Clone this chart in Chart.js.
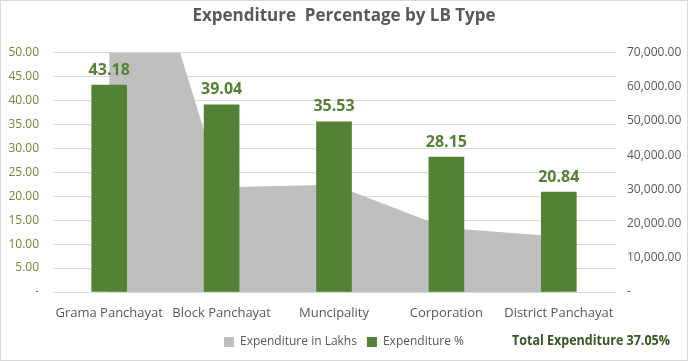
<!DOCTYPE html>
<html>
<head>
    <title>Expenditure Percentage by LB Type</title>
    <script src="https://cdn.jsdelivr.net/npm/chart.js"></script>
    <style>
        body { margin: 0; background: #fff; }
        #wrap { width: 688px; height: 361px; }
    </style>
</head>
<body>
    <div id="wrap"><canvas id="lbChart" width="688" height="361"></canvas></div>
    <script>
        // data
        const lbTypes = ['Grama Panchayat', 'Block Panchayat', 'Muncipality', 'Corporation', 'District Panchayat'];
        const expenditurePct = [43.18, 39.04, 35.53, 28.15, 20.84];
        const expenditureLakhs = [137000, 30600, 31300, 18700, 16200];
        const totalText = 'Total Expenditure 37.05%';

        const green = '#548235';
        const gray = '#595959';

        const extras = {
            id: 'extras',
            beforeDraw(chart) {
                const c = chart.ctx;
                c.save();
                c.fillStyle = '#fff';
                c.fillRect(0, 0, chart.width, chart.height);
                c.restore();
            },
            afterDatasetsDraw(chart) {
                const c = chart.ctx;
                const meta = chart.getDatasetMeta(0);
                c.save();
                c.font = 'bold 16px "Open Sans"';
                c.fillStyle = green;
                c.textAlign = 'center';
                c.textBaseline = 'middle';
                meta.data.forEach((bar, i) => {
                    c.fillText(expenditurePct[i].toFixed(2), bar.x, bar.y - 15);
                });
                c.restore();
            },
            afterDraw(chart) {
                const c = chart.ctx;
                c.save();
                // narrow bold text, squeezed to the reference width
                c.font = 'bold 15px "Open Sans"';
                c.fillStyle = '#375623';
                c.textBaseline = 'middle';
                const w = c.measureText(totalText).width;
                const sx = 158 / w;
                c.translate(512, 341);
                c.scale(sx, 1);
                c.fillText(totalText, 0, 0);
                c.restore();
                c.save();
                c.strokeStyle = '#d9d9d9';
                c.lineWidth = 1;
                c.strokeRect(0.5, 0.5, chart.width - 1, chart.height - 1);
                c.restore();
            }
        };

        const ctx = document.getElementById('lbChart').getContext('2d');
        new Chart(ctx, {
            type: 'bar',
            data: {
                labels: lbTypes,
                datasets: [{
                    label: 'Expenditure %',
                    data: expenditurePct,
                    backgroundColor: green,
                    yAxisID: 'y',
                    order: 1,
                    barThickness: 35
                }, {
                    type: 'line',
                    label: 'Expenditure in Lakhs',
                    data: expenditureLakhs,
                    backgroundColor: '#bfbfbf',
                    borderWidth: 0,
                    pointRadius: 0,
                    fill: 'origin',
                    tension: 0,
                    yAxisID: 'y1',
                    order: 2
                }]
            },
            plugins: [extras],
            options: {
                responsive: false,
                animation: false,
                layout: { padding: { left: 0, right: 0, top: 0, bottom: 3 } },
                plugins: {
                    title: {
                        display: true,
                        text: 'Expenditure  Percentage by LB Type',
                        color: gray,
                        font: { family: 'Open Sans', size: 17, weight: 'bold' },
                        padding: { top: 6, bottom: 26 }
                    },
                    legend: {
                        position: 'bottom',
                        labels: {
                            color: gray,
                            font: { family: 'Open Sans', size: 12 },
                            boxWidth: 10,
                            boxHeight: 10,
                            padding: 10,
                            sort: (a, b) => b.datasetIndex - a.datasetIndex
                        }
                    },
                    tooltip: { enabled: false }
                },
                scales: {
                    x: {
                        offset: true,
                        grid: { display: false, drawTicks: false },
                        border: { color: '#d9d9d9' },
                        ticks: {
                            color: gray,
                            font: { family: 'Open Sans', size: 13 },
                            padding: 13,
                            maxRotation: 0
                        },
                        afterFit: s => { s.height = 34; }
                    },
                    y: {
                        position: 'left',
                        min: 0,
                        max: 50,
                        grid: { color: '#d9d9d9', drawTicks: false },
                        border: { display: false },
                        ticks: {
                            stepSize: 5,
                            color: '#6d8a3a',
                            font: { family: 'Open Sans', size: 12 },
                            padding: 14,
                            callback: v => v === 0 ? '-' : v.toFixed(2)
                        },
                        afterFit: s => { s.width = 53; }
                    },
                    y1: {
                        position: 'right',
                        min: 0,
                        max: 70000,
                        grid: { display: false, drawTicks: false },
                        border: { display: false },
                        ticks: {
                            stepSize: 10000,
                            color: gray,
                            font: { family: 'Open Sans', size: 12 },
                            padding: 12,
                            callback: v => v === 0 ? '-' : v.toLocaleString('en-US', { minimumFractionDigits: 2 })
                        },
                        afterFit: s => { s.width = 73; }
                    }
                }
            }
        });
    </script>
</body>
</html>
